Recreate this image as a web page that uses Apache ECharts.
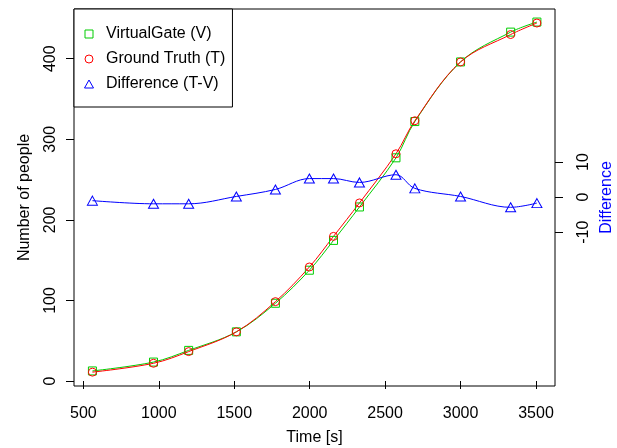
<!DOCTYPE html>
<html>
<head>
<meta charset="utf-8">
<script src="https://cdn.jsdelivr.net/npm/echarts@6/dist/echarts.min.js"></script>
<style>
html,body{margin:0;padding:0;background:#fff;}
#chart{width:617px;height:448px;}
</style>
</head>
<body>
<div id="chart"></div>
<script>
const timeS = [560, 965, 1198, 1514, 1773, 1998, 2158, 2330, 2572, 2697, 3000, 3332, 3506];
const virtualGate = [12.5, 23.5, 38, 61, 96.5, 137.5, 174.5, 216, 277, 322, 396, 433, 445.5];
const groundTruth = [11, 22, 36.5, 61, 98.5, 141.5, 179.5, 221, 282, 323, 396, 430, 444.3];
const difference = [-1.0, -1.9, -1.9, 0.2, 2.2, 5.3, 5.3, 4.2, 6.4, 2.5, 0.2, -2.9, -1.7];
const xTicks = [500, 1000, 1500, 2000, 2500, 3000, 3500];
const yTicks = [0, 100, 200, 300, 400];
const diffTicks = [-10, 0, 10];

const GREEN = '#00CD00', RED = '#FF0000', BLUE = '#0000FF';
const FONT = 'Liberation Sans, Arial, sans-serif';

const pairs = (ys) => timeS.map((t, i) => [t, ys[i]]);
const plain = (v) => String(v);

const chart = echarts.init(document.getElementById('chart'), null, {renderer: 'canvas'});
chart.setOption({
  animation: false,
  backgroundColor: '#fff',
  textStyle: {fontFamily: FONT},
  grid: {left: 74, right: 62, top: 9, bottom: 62, containLabel: false, outerBoundsMode: 'none',
         show: true, borderColor: '#000', borderWidth: 1, backgroundColor: 'transparent'},
  legend: {
    orient: 'vertical', left: 74, top: 9,
    padding: [17, 7, 15, 10],
    itemGap: 9, itemWidth: 24, itemHeight: 8,
    symbolKeepAspect: true,
    borderColor: '#000', borderWidth: 1, backgroundColor: '#fff',
    textStyle: {fontSize: 16, color: '#000', fontFamily: FONT},
    itemStyle: {borderWidth: 1},
    data: [
      {name: 'VirtualGate (V)', icon: 'path://M0,0H8V8H0Z'},
      {name: 'Ground Truth (T)', icon: 'circle'},
      {name: 'Difference (T-V)', icon: 'path://M4.5,0L9,8H0Z'}
    ]
  },
  xAxis: {
    type: 'value', min: 438, max: 3626,
    name: 'Time [s]', nameLocation: 'middle', nameGap: 44, nameMoveOverlap: false,
    nameTextStyle: {fontSize: 16, color: '#000', fontFamily: FONT},
    axisLine: {show: false},
    splitLine: {show: false},
    axisTick: {show: true, inside: false, length: 8, customValues: xTicks, lineStyle: {color: '#000'}},
    axisLabel: {customValues: xTicks, formatter: plain, fontSize: 16, color: '#000', margin: 20, fontFamily: FONT}
  },
  yAxis: [{
    type: 'value', min: -6.2, max: 461.7, position: 'left',
    name: 'Number of people', nameLocation: 'middle', nameGap: 41, nameRotate: 90, nameMoveOverlap: false,
    nameTextStyle: {fontSize: 16, color: '#000', fontFamily: FONT},
    axisLine: {show: false},
    splitLine: {show: false},
    axisTick: {show: true, inside: false, length: 8, customValues: yTicks, lineStyle: {color: '#000'}},
    axisLabel: {customValues: yTicks, formatter: plain, rotate: 90, fontSize: 16, color: '#000', margin: 15, fontFamily: FONT}
  }, {
    type: 'value', min: -53.9, max: 53.7, position: 'right',
    name: 'Difference', nameLocation: 'middle', nameGap: 44, nameRotate: 90, nameMoveOverlap: false,
    nameTextStyle: {fontSize: 16, color: BLUE, fontFamily: FONT},
    axisLine: {show: false},
    splitLine: {show: false},
    axisTick: {show: true, inside: false, length: 8, customValues: diffTicks, lineStyle: {color: '#000'}},
    axisLabel: {customValues: diffTicks, formatter: plain, rotate: 90, fontSize: 16, color: '#000', margin: 21, fontFamily: FONT}
  }],
  series: [{
    name: 'VirtualGate (V)', type: 'line', yAxisIndex: 0, smooth: 0.35,
    data: pairs(virtualGate),
    symbol: 'rect', symbolSize: 8,
    itemStyle: {color: 'rgba(0,0,0,0)', borderColor: GREEN, borderWidth: 1},
    lineStyle: {color: GREEN, width: 1}
  }, {
    name: 'Ground Truth (T)', type: 'line', yAxisIndex: 0, smooth: 0.35,
    data: pairs(groundTruth),
    symbol: 'circle', symbolSize: 8,
    itemStyle: {color: 'rgba(0,0,0,0)', borderColor: RED, borderWidth: 1},
    lineStyle: {color: RED, width: 1}
  }, {
    name: 'Difference (T-V)', type: 'line', yAxisIndex: 1, smooth: 0.35,
    data: pairs(difference),
    symbol: 'triangle', symbolSize: [10, 9],
    itemStyle: {color: 'rgba(0,0,0,0)', borderColor: BLUE, borderWidth: 1},
    lineStyle: {color: BLUE, width: 1}
  }]
});
</script>
</body>
</html>
